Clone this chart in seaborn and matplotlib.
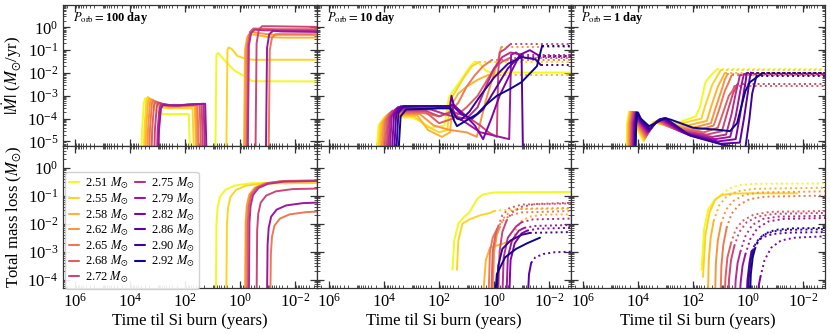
import numpy as np
import pandas as pd
import seaborn as sns
import matplotlib
matplotlib.use("Agg")
import matplotlib.pyplot as plt
from matplotlib.lines import Line2D
from matplotlib.ticker import FixedLocator, LogLocator, NullFormatter

# Donor masses (legend) and orbital periods (columns)
masses = ["2.51", "2.55", "2.58", "2.62", "2.65", "2.68", "2.72",
          "2.75", "2.79", "2.82", "2.86", "2.90", "2.92"]
periods = ["100", "10", "1"]

# Each curve: (solid points, dotted points); points are (log10 time, log10 value)
mdot_100d = [
    ([(3.59, -5.5), (3.57, -4.6), (3.5, -3.3), (3.45, -3.1), (3.3, -3.35), (3.0, -3.7), (2.8, -3.8), (1.87, -3.8), (1.82, -5.5),
      (0.9, -5.5), (0.86, -1.2), (0.8, -1.12), (0.6, -1.4), (0.2, -1.9), (-0.25, -2.2), (-0.45, -2.36), (-2.8, -2.37)], []),
    ([(3.5, -5.5), (3.48, -4.5), (3.41, -3.2), (3.36, -3.05), (3.2, -3.3), (2.9, -3.5), (2.6, -3.55), (1.73, -3.55), (1.68, -5.5),
      (0.5, -5.5), (0.46, -1.0), (0.42, -0.88), (0.3, -0.95), (0.1, -1.25), (-0.2, -1.38), (-0.5, -1.42), (-2.8, -1.42)], []),
    ([(3.44, -5.5), (3.42, -4.5), (3.35, -3.25), (3.3, -3.1), (3.15, -3.3), (2.8, -3.45), (2.5, -3.5), (1.65, -3.45), (1.6, -5.5),
      (-0.14, -5.5), (-0.18, -1.0), (-0.25, -0.45), (-0.35, -0.3), (-0.6, -0.33), (-1.0, -0.42), (-1.5, -0.45), (-2.8, -0.45)], []),
    ([(3.37, -5.5), (3.35, -4.5), (3.28, -3.3), (3.22, -3.15), (3.05, -3.3), (2.7, -3.45), (2.4, -3.48), (1.6, -3.42), (1.55, -5.5),
      (-0.18, -5.5), (-0.22, -0.9), (-0.3, -0.35), (-0.42, -0.2), (-0.7, -0.25), (-1.1, -0.32), (-2.8, -0.33)], []),
    ([(3.3, -5.5), (3.28, -4.5), (3.21, -3.35), (3.15, -3.2), (2.95, -3.35), (2.6, -3.45), (2.2, -3.45), (1.55, -3.4), (1.5, -5.5),
      (-1.04, -5.5), (-1.08, -1.0), (-1.16, -0.45), (-1.3, -0.3), (-1.6, -0.3), (-2.8, -0.3)], []),
    ([(3.22, -5.5), (3.2, -4.5), (3.13, -3.4), (3.06, -3.25), (2.85, -3.35), (2.5, -3.42), (2.1, -3.42), (1.47, -3.38), (1.42, -5.5),
      (-0.24, -5.5), (-0.28, -0.8), (-0.36, -0.2), (-0.48, -0.05), (-0.8, -0.06), (-1.3, -0.08), (-2.8, -0.08)], []),
    ([(3.12, -5.5), (3.1, -4.5), (3.03, -3.45), (2.96, -3.3), (2.75, -3.38), (2.4, -3.42), (2.0, -3.4), (1.4, -3.36), (1.35, -5.5),
      (-0.56, -5.5), (-0.6, -0.7), (-0.68, -0.1), (-0.8, 0.05), (-1.1, 0.05), (-2.8, 0.02)], []),
    ([(3.02, -5.5), (3.0, -4.5), (2.93, -3.5), (2.86, -3.35), (2.65, -3.4), (2.3, -3.42), (1.9, -3.38), (1.33, -3.35), (1.28, -5.5),
      (-0.28, -5.5), (-0.32, -0.8), (-0.4, -0.25), (-0.52, -0.1), (-0.9, -0.13), (-2.8, -0.15)], []),
    ([(2.97, -5.5), (2.95, -4.5), (2.88, -3.55), (2.8, -3.4), (2.6, -3.42), (2.2, -3.42), (1.8, -3.38), (1.27, -3.35), (1.22, -5.5),
      (-0.94, -5.5), (-0.98, -0.9), (-1.06, -0.3), (-1.2, -0.15), (-1.5, -0.18), (-2.8, -0.2)], []),
    None, None, None, None,
]

mloss_100d = [
    ([(0.88, -4.6), (0.86, -2.04), (0.82, -1.44), (0.73, -1.04), (0.53, -0.79), (0.18, -0.64), (-0.42, -0.56), (-2.8, -0.54)], []),
    ([(0.5, -4.6), (0.48, -2.05), (0.44, -1.45), (0.35, -1.05), (0.15, -0.8), (-0.2, -0.65), (-0.8, -0.57), (-2.8, -0.55)], []),
    ([(-0.18, -4.6), (-0.2, -1.97), (-0.24, -1.37), (-0.33, -0.97), (-0.53, -0.72), (-0.88, -0.57), (-1.48, -0.49), (-2.8, -0.47)], []),
    ([(-0.2, -4.6), (-0.22, -1.98), (-0.26, -1.38), (-0.35, -0.98), (-0.55, -0.73), (-0.9, -0.58), (-1.5, -0.5), (-2.8, -0.48)], []),
    ([(-1.1, -4.6), (-1.12, -3.07), (-1.16, -2.47), (-1.25, -2.07), (-1.45, -1.82), (-1.8, -1.67), (-2.4, -1.59), (-2.8, -1.57)], []),
    ([(-0.26, -4.6), (-0.28, -1.96), (-0.32, -1.36), (-0.41, -0.96), (-0.61, -0.71), (-0.96, -0.56), (-1.56, -0.48), (-2.8, -0.46)], []),
    ([(-0.6, -4.6), (-0.62, -2.25), (-0.66, -1.65), (-0.75, -1.25), (-0.95, -1.0), (-1.3, -0.85), (-1.9, -0.77), (-2.8, -0.75)], []),
    ([(-0.32, -4.6), (-0.34, -1.98), (-0.38, -1.38), (-0.47, -0.98), (-0.67, -0.73), (-1.02, -0.58), (-1.62, -0.5), (-2.8, -0.48)], []),
    ([(-0.98, -4.6), (-1.0, -2.75), (-1.04, -2.15), (-1.13, -1.75), (-1.33, -1.5), (-1.68, -1.35), (-2.28, -1.27), (-2.8, -1.25)], []),
    None, None, None, None,
]

mdot_10d = [
    ([(4.28, -5.5), (4.2, -4.3), (4.0, -3.95), (3.0, -3.95), (2.7, -4.1), (2.3, -4.4), (1.8, -4.3), (1.65, -3.1), (1.5, -2.8),
      (1.2, -2.3), (0.9, -1.75), (0.7, -1.5), (0.55, -1.55), (0.3, -1.9), (0.1, -1.98), (-2.8, -1.98)], []),
    ([(4.22, -5.5), (4.14, -4.25), (3.95, -3.9), (2.9, -3.9), (2.5, -4.3), (2.0, -4.6), (1.7, -4.5), (1.6, -3.2), (1.45, -2.9),
      (1.1, -2.2), (0.8, -1.7), (0.55, -1.52)], [(0.55, -1.52), (-2.8, -1.52)]),
    ([(4.16, -5.5), (4.08, -4.2), (3.9, -3.85), (2.8, -3.85), (2.4, -4.5), (1.9, -4.8), (1.6, -4.6), (1.5, -3.3), (1.3, -2.9),
      (1.0, -2.6), (0.6, -2.3), (0.2, -2.08)], [(0.2, -2.08), (-2.8, -2.08)]),
    ([(4.1, -5.5), (4.02, -4.15), (3.85, -3.8), (2.7, -3.8), (2.2, -4.3), (1.6, -4.5), (1.0, -4.6), (0.63, -4.8), (0.3, -3.2),
      (0.0, -2.0), (-0.2, -1.2), (-0.25, -0.88)], [(-0.25, -0.88), (-2.8, -0.88)]),
    ([(4.04, -5.5), (3.96, -4.1), (3.8, -3.75), (2.6, -3.75), (2.0, -3.9), (1.6, -3.7), (1.3, -3.3), (1.0, -2.6), (0.7, -2.1),
      (0.4, -1.7), (0.1, -1.45)], [(0.1, -1.45), (-2.8, -1.45)]),
    ([(3.98, -5.5), (3.9, -4.05), (3.75, -3.7), (2.5, -3.7), (2.0, -4.2), (1.5, -4.0), (1.0, -3.5), (0.6, -3.0), (0.3, -2.4),
      (0.0, -1.8), (-0.3, -1.5), (-0.55, -1.35)], [(-0.55, -1.35), (-2.8, -1.35)]),
    ([(3.92, -5.5), (3.84, -4.0), (3.7, -3.65), (2.5, -3.65), (2.0, -3.9), (1.5, -3.7), (1.0, -3.9), (0.5, -4.3), (0.2, -4.6),
      (-0.1, -4.8), (-0.15, -2.0), (-0.2, -1.1), (-0.4, -0.95), (-0.58, -0.75)], [(-0.58, -0.75), (-2.8, -0.75)]),
    ([(3.86, -5.5), (3.78, -3.95), (3.6, -3.6), (2.3, -3.6), (1.8, -3.8), (1.5, -3.9), (1.0, -4.0), (0.6, -3.5), (0.3, -2.6),
      (0.0, -1.8), (-0.3, -1.3), (-0.6, -1.1), (-1.0, -1.2)], [(-1.0, -1.2), (-2.8, -1.2)]),
    ([(3.8, -5.5), (3.72, -3.9), (3.55, -3.55), (2.2, -3.55), (1.7, -3.5), (1.55, -3.4), (1.4, -3.9), (1.0, -4.2), (0.5, -4.6),
      (-0.55, -4.9), (-0.62, -1.2), (-0.8, -1.1), (-1.0, -1.3)], [(-1.0, -1.3), (-2.8, -1.3)]),
    ([(3.72, -5.5), (3.64, -3.85), (3.5, -3.5), (2.0, -3.45), (1.6, -3.45), (1.49, -3.38), (1.1, -3.8), (0.7, -4.3), (0.4, -4.9),
      (0.1, -4.0), (-0.2, -3.0), (-0.6, -2.0), (-0.94, -1.2), (-1.3, -1.0), (-1.65, -1.25)], [(-1.65, -1.25), (-2.8, -1.25)]),
    ([(3.64, -5.5), (3.56, -3.8), (3.4, -3.46), (1.6, -3.46), (1.55, -3.0), (1.45, -3.5), (1.2, -3.8), (0.8, -4.0), (0.4, -3.6),
      (0.0, -2.8), (-0.5, -1.8), (-0.9, -1.3), (-1.0, -1.2), (-1.05, -5.5)], []),
    ([(3.56, -5.5), (3.48, -3.75), (3.3, -3.45), (1.65, -3.45), (1.55, -3.6), (1.35, -4.0), (1.2, -4.05), (0.9, -3.7), (0.5, -3.0),
      (0.0, -2.2), (-0.5, -1.6), (-1.0, -1.3), (-1.5, -1.4), (-1.7, -1.65)], [(-1.7, -1.65), (-2.8, -1.65)]),
    ([(3.48, -5.5), (3.4, -3.9), (3.2, -3.6), (2.0, -3.55), (1.6, -3.55), (1.45, -4.1), (1.35, -4.33), (0.9, -4.0), (0.62, -3.8),
      (0.3, -3.4), (-0.1, -3.0), (-0.58, -2.7), (-1.0, -2.4), (-1.56, -1.7), (-1.75, -0.8)], [(-1.75, -0.8), (-2.8, -0.8)]),
]

mloss_10d = [
    ([(1.51, -3.64), (1.45, -2.6), (1.3, -2.0), (1.13, -1.8), (0.9, -1.6), (0.6, -1.1), (0.4, -0.96), (0.0, -0.89), (-2.8, -0.87)], []),
    ([(1.35, -3.64), (1.3, -2.6), (1.15, -2.0), (0.9, -1.85), (0.5, -1.7), (0.15, -1.62), (0.0, -1.55)],
     [(0.0, -1.55), (-0.5, -1.5), (-1.0, -1.48), (-2.8, -1.47)]),
    ([(0.4, -4.6), (0.3, -3.3), (0.15, -2.86), (-0.2, -2.75), (-0.7, -2.6)],
     [(-0.7, -2.6), (-0.8, -2.2), (-1.0, -1.9), (-1.3, -1.75), (-1.8, -1.68), (-2.8, -1.67)]),
    ([(0.05, -4.6), (0.0, -3.0), (-0.1, -2.4), (-0.2, -2.15)],
     [(-0.2, -2.15), (-0.35, -1.8), (-0.6, -1.55), (-1.0, -1.47), (-2.8, -1.44)]),
    ([(0.2, -4.6), (0.15, -3.0), (0.05, -2.5), (-0.1, -2.2)],
     [(-0.1, -2.2), (-0.3, -1.9), (-0.6, -1.7), (-1.0, -1.6), (-2.8, -1.55)]),
    ([(0.1, -4.6), (0.05, -3.0), (-0.05, -2.4), (-0.15, -2.1)],
     [(-0.15, -2.1), (-0.3, -1.7), (-0.55, -1.45), (-1.0, -1.32), (-2.8, -1.28)]),
    ([(-0.15, -4.6), (-0.2, -3.0), (-0.3, -2.3), (-0.45, -1.9)],
     [(-0.45, -1.9), (-0.65, -1.6), (-1.0, -1.4), (-1.5, -1.3), (-2.8, -1.26)]),
    ([(-0.3, -4.6), (-0.35, -3.2), (-0.5, -2.5), (-0.8, -2.1), (-1.0, -1.95)],
     [(-1.0, -1.95), (-1.4, -1.85), (-2.8, -1.82)]),
    ([(-0.45, -4.6), (-0.5, -3.2), (-0.65, -2.6), (-0.9, -2.25), (-1.1, -2.15)],
     [(-1.1, -2.15), (-1.5, -2.08), (-2.8, -2.05)]),
    ([(-0.55, -4.6), (-0.6, -3.3), (-0.75, -2.7), (-1.0, -2.35), (-1.2, -2.25)],
     [(-1.2, -2.25), (-1.6, -2.18), (-2.8, -2.15)]),
    ([(-1.23, -4.6), (-1.27, -3.8), (-1.35, -3.4)],
     [(-1.35, -3.4), (-1.5, -3.2), (-1.8, -3.08), (-2.2, -3.02), (-2.8, -3.0)]),
    ([(-0.1, -4.6), (-0.15, -3.5), (-0.3, -2.9), (-0.6, -2.6), (-1.0, -2.4), (-1.3, -2.33)],
     [(-1.3, -2.33), (-2.8, -2.3)]),
    ([(-0.04, -4.6), (-0.1, -3.8), (-0.4, -3.2), (-0.8, -2.9), (-1.2, -2.7), (-1.67, -2.5)], []),
]

mdot_1d = [
    ([(4.42, -5.5), (4.40, -4.2), (4.33, -3.68), (4.2, -4.1), (3.8, -5.0), (3.6, -4.4), (3.45, -4.15), (3.2, -4.25), (2.6, -4.2),
      (1.9, -3.9), (1.75, -3.5), (1.55, -2.4), (1.35, -2.1), (1.13, -1.84)], [(1.13, -1.84), (-2.8, -1.84)]),
    ([(4.39, -5.5), (4.37, -4.2), (4.3, -3.69), (4.17, -4.1), (3.78, -4.95), (3.58, -4.4), (3.42, -4.15), (3.1, -4.25), (2.4, -4.2),
      (1.7, -4.0), (1.55, -3.4), (1.3, -2.5), (1.1, -2.1), (1.0, -1.88)], [(1.0, -1.88), (-2.8, -1.88)]),
    ([(4.36, -5.5), (4.34, -4.2), (4.27, -3.7), (4.14, -4.1), (3.76, -4.9), (3.55, -4.35), (3.38, -4.13), (3.0, -4.3), (2.2, -4.3),
      (1.5, -4.1), (1.35, -3.5), (1.1, -2.6), (0.95, -2.25), (0.85, -2.0)], [(0.85, -2.0), (-2.8, -2.0)]),
    ([(4.33, -5.5), (4.31, -4.2), (4.24, -3.7), (4.11, -4.1), (3.74, -4.85), (3.52, -4.35), (3.34, -4.12), (2.9, -4.35), (2.0, -4.4),
      (1.35, -4.2), (1.2, -3.6), (0.95, -2.7), (0.85, -2.3), (0.75, -2.05)], [(0.75, -2.05), (-2.8, -2.05)]),
    ([(4.30, -5.5), (4.28, -4.2), (4.21, -3.7), (4.08, -4.1), (3.72, -4.8), (3.5, -4.3), (3.3, -4.1), (2.8, -4.4), (1.8, -4.5),
      (1.25, -4.3), (1.05, -3.6), (0.85, -2.8), (0.7, -2.4), (0.6, -2.1)], [(0.6, -2.1), (-2.8, -2.1)]),
    ([(4.27, -5.5), (4.25, -4.2), (4.18, -3.71), (4.05, -4.1), (3.7, -4.75), (3.46, -4.3), (3.26, -4.08), (2.7, -4.45), (1.6, -4.6),
      (1.1, -4.4), (0.9, -3.7), (0.7, -3.0), (0.55, -2.75), (0.5, -2.58)], [(0.5, -2.58), (-2.8, -2.58)]),
    ([(4.24, -5.5), (4.22, -4.2), (4.15, -3.71), (4.02, -4.1), (3.68, -4.7), (3.42, -4.25), (3.22, -4.06), (2.6, -4.5), (1.5, -4.7),
      (0.95, -4.55), (0.75, -3.7), (0.55, -2.9), (0.45, -2.65), (0.4, -2.5)], [(0.4, -2.5), (-2.8, -2.5)]),
    ([(4.21, -5.5), (4.19, -4.2), (4.12, -3.72), (3.99, -4.1), (3.66, -4.65), (3.38, -4.2), (3.18, -4.04), (2.5, -4.55), (1.3, -4.8),
      (0.8, -4.7), (0.6, -3.8), (0.45, -2.9), (0.35, -2.4), (0.3, -2.1)], [(0.3, -2.1), (-2.8, -2.1)]),
    ([(4.18, -5.5), (4.16, -4.2), (4.09, -3.72), (3.96, -4.1), (3.64, -4.6), (3.34, -4.15), (3.14, -4.02), (2.4, -4.6), (1.2, -4.9),
      (0.65, -4.8), (0.45, -3.9), (0.3, -2.9), (0.2, -2.3), (0.15, -2.05)], [(0.15, -2.05), (-2.8, -2.05)]),
    ([(4.15, -5.5), (4.13, -4.2), (4.06, -3.72), (3.93, -4.1), (3.62, -4.55), (3.3, -4.1), (3.1, -4.0), (2.3, -4.65), (1.1, -5.0),
      (0.45, -4.9), (0.3, -3.9), (0.15, -2.8), (0.08, -2.3), (0.05, -2.0)], [(0.05, -2.0), (-2.8, -2.0)]),
    ([(4.12, -5.5), (4.10, -4.2), (4.03, -3.73), (3.9, -4.1), (3.6, -4.5), (3.25, -4.05), (3.05, -3.99), (2.2, -4.7), (1.0, -5.1),
      (0.3, -5.05), (0.15, -4.0), (0.0, -2.8), (-0.05, -2.3), (-0.1, -1.98)], [(-0.1, -1.98), (-2.8, -1.98)]),
    ([(4.09, -5.5), (4.07, -4.2), (4.0, -3.73), (3.87, -4.1), (3.58, -4.45), (3.2, -4.02), (3.0, -3.98), (2.1, -4.75), (0.9, -5.15),
      (0.1, -5.3), (-0.05, -4.0), (-0.15, -2.9), (-0.25, -2.4), (-0.3, -2.15)], [(-0.3, -2.15), (-2.8, -2.15)]),
    ([(4.12, -5.5), (4.05, -3.73), (3.9, -4.0), (3.6, -4.33), (3.3, -4.15), (3.0, -3.98), (2.8, -4.05), (2.0, -4.4), (1.0, -4.5),
      (0.66, -4.55), (0.4, -4.2), (0.1, -2.8), (-0.07, -2.4), (-0.3, -2.2), (-0.54, -2.0)], [(-0.54, -2.0), (-2.8, -2.0)]),
]

mloss_1d = [
    ([(1.69, -3.64), (1.6, -2.2), (1.45, -1.5), (1.2, -1.14), (0.95, -0.96)],
     [(0.95, -0.96), (0.7, -0.75), (0.3, -0.62), (-0.3, -0.58), (-2.8, -0.57)]),
    ([(1.64, -3.9), (1.55, -2.4), (1.4, -1.6), (1.2, -1.15), (0.95, -0.98), (0.6, -0.93), (0.0, -0.92), (-1.78, -0.92)], []),
    ([(1.46, -4.6), (1.43, -3.3), (1.36, -2.5), (1.25, -1.9)],
     [(1.25, -1.9), (1.05, -1.35), (0.8, -1.05), (0.4, -0.85), (-0.2, -0.76), (-2.8, -0.72)]),
    ([(1.2, -4.6), (1.17, -3.4), (1.1, -2.6), (0.98, -2.0)],
     [(0.98, -2.0), (0.8, -1.5), (0.55, -1.2), (0.15, -0.98), (-0.4, -0.89), (-2.8, -0.85)]),
    ([(1.0, -4.6), (0.97, -3.5), (0.9, -2.75), (0.78, -2.15)],
     [(0.78, -2.15), (0.6, -1.65), (0.35, -1.35), (-0.05, -1.13), (-0.6, -1.04), (-2.8, -1.0)]),
    ([(0.85, -4.6), (0.82, -3.9), (0.75, -3.2), (0.62, -2.7)],
     [(0.62, -2.7), (0.45, -2.2), (0.2, -1.9), (-0.2, -1.68), (-0.8, -1.58), (-2.8, -1.55)]),
    ([(0.72, -4.6), (0.69, -3.95), (0.62, -3.3), (0.5, -2.8)],
     [(0.5, -2.8), (0.32, -2.3), (0.05, -1.95), (-0.35, -1.75), (-0.95, -1.65), (-2.8, -1.62)]),
    ([(0.48, -4.6), (0.45, -4.0), (0.38, -3.4), (0.28, -3.0)],
     [(0.28, -3.0), (0.1, -2.45), (-0.15, -2.05), (-0.55, -1.83), (-1.1, -1.75), (-2.8, -1.72)]),
    ([(0.3, -4.6), (0.27, -4.1), (0.2, -3.5), (0.1, -3.1)],
     [(0.1, -3.1), (-0.08, -2.55), (-0.35, -2.15), (-0.75, -1.92), (-1.3, -1.83), (-2.8, -1.8)]),
    ([(-0.36, -4.6), (-0.39, -4.2), (-0.45, -3.9)],
     [(-0.45, -3.9), (-0.6, -3.3), (-0.85, -2.85), (-1.2, -2.6), (-1.7, -2.5), (-2.8, -2.45)]),
    ([(0.05, -4.6), (0.02, -4.0), (-0.05, -3.4), (-0.12, -3.0)],
     [(-0.12, -3.0), (-0.25, -2.75), (-0.5, -2.5), (-0.9, -2.37), (-1.5, -2.32), (-2.8, -2.3)]),
    ([(0.0, -4.6), (-0.03, -3.9), (-0.1, -3.3), (-0.18, -2.95)],
     [(-0.18, -2.95), (-0.3, -2.65), (-0.55, -2.4), (-0.95, -2.27), (-1.55, -2.22), (-2.8, -2.2)]),
    ([(-0.07, -4.6), (-0.1, -3.8), (-0.17, -3.2), (-0.25, -2.9)],
     [(-0.25, -2.9), (-0.38, -2.6), (-0.62, -2.35), (-1.0, -2.22), (-1.6, -2.17), (-2.8, -2.15)]),
]

# Style
sns.set_theme(style="ticks")
plt.rcParams["font.family"] = ["Liberation Serif", "DejaVu Serif"]
plt.rcParams["mathtext.fontset"] = "stix"
plt.rcParams["font.size"] = 12
plt.rcParams["axes.edgecolor"] = "0.2"
plt.rcParams["text.color"] = "black"
plt.rcParams["axes.labelcolor"] = "black"
plt.rcParams["xtick.color"] = "0.2"
plt.rcParams["ytick.color"] = "0.2"
plt.rcParams["xtick.labelcolor"] = "black"
plt.rcParams["ytick.labelcolor"] = "black"

colors = plt.cm.plasma(np.linspace(1.0, 0.0, len(masses)))


def draw_curves(ax, curves):
    for i, curve in enumerate(curves):
        if curve is None:
            continue
        solid, dotted = curve
        for pts, ls in ((solid, "-"), (dotted, ":")):
            if not pts:
                continue
            df = pd.DataFrame(pts, columns=["logt", "logy"])
            df["t"] = 10 ** df["logt"]
            df["y"] = 10 ** df["logy"]
            sns.lineplot(data=df, x="t", y="y", sort=False, estimator=None,
                         color=colors[i], linestyle=ls, linewidth=1.4, ax=ax)


fig, axes = plt.subplots(2, 3, figsize=(8.3, 3.34), dpi=100, sharex=True, sharey="row")
fig.subplots_adjust(left=0.076, right=0.994, top=0.985, bottom=0.138, wspace=0, hspace=0)

top_sets = [mdot_100d, mdot_10d, mdot_1d]
bottom_sets = [mloss_100d, mloss_10d, mloss_1d]

for col in range(3):
    for row, sets in ((0, top_sets), (1, bottom_sets)):
        ax = axes[row, col]
        ax.set_xscale("log")
        ax.set_yscale("log")
        draw_curves(ax, sets[col])
        ax.set_xlabel("")
        ax.set_ylabel("")

for ax in axes.flat:
    ax.set_xlim(10 ** 6.44, 10 ** -2.8)
    ax.xaxis.set_major_locator(FixedLocator([1e6, 1e4, 1e2, 1e0, 1e-2]))
    ax.xaxis.set_minor_locator(LogLocator(base=10, subs=np.arange(1, 10), numticks=40))
    ax.xaxis.set_minor_formatter(NullFormatter())
    ax.yaxis.set_minor_locator(LogLocator(base=10, subs=np.arange(1, 10), numticks=40))
    ax.yaxis.set_minor_formatter(NullFormatter())
    ax.tick_params(which="both", direction="in", top=True, right=True, labelsize=12)
    ax.tick_params(which="major", length=5, width=0.9)
    ax.tick_params(which="minor", length=2.5, width=0.6)
    for sp in ax.spines.values():
        sp.set_linewidth(0.9)

for ax in axes[0]:
    ax.set_ylim(10 ** -5.22, 10 ** 0.98)
    ax.yaxis.set_major_locator(FixedLocator([1e-5, 1e-4, 1e-3, 1e-2, 1e-1, 1e0]))
for ax in axes[1]:
    ax.set_ylim(10 ** -4.29, 10 ** 0.75)
    ax.yaxis.set_major_locator(FixedLocator([1e-4, 1e-3, 1e-2, 1e-1, 1e0]))

for col in range(3):
    axes[0, col].tick_params(labelbottom=False)
    if col > 0:
        axes[0, col].tick_params(labelleft=False)
        axes[1, col].tick_params(labelleft=False)
    axes[1, col].set_xlabel("Time til Si burn (years)", fontsize=12, labelpad=2)
    axes[0, col].text(0.04, 0.91, r"$P_{\rm orb} = $" + periods[col] + " day",
                      transform=axes[0, col].transAxes, fontsize=9, fontweight="bold",
                      ha="left", va="center")

axes[0, 0].set_ylabel(r"$|\dot{M}|$ ($M_{\odot}$/yr)", fontsize=12, labelpad=2)
axes[1, 0].set_ylabel(r"Total mass loss ($M_{\odot}$)", fontsize=12, labelpad=2)

handles = [Line2D([0], [0], color=c, lw=1.5) for c in colors]
labels = [m + r" $M_{\odot}$" for m in masses]
axes[1, 0].legend(handles, labels, ncol=2, loc="upper left", bbox_to_anchor=(0.008, 0.82),
                  borderaxespad=0, fontsize=9, handlelength=0.8, handletextpad=0.5,
                  columnspacing=0.5, labelspacing=0.0, borderpad=0.3,
                  frameon=True, edgecolor="0.8", framealpha=0.9)

fig.savefig("out.png", dpi=100)
